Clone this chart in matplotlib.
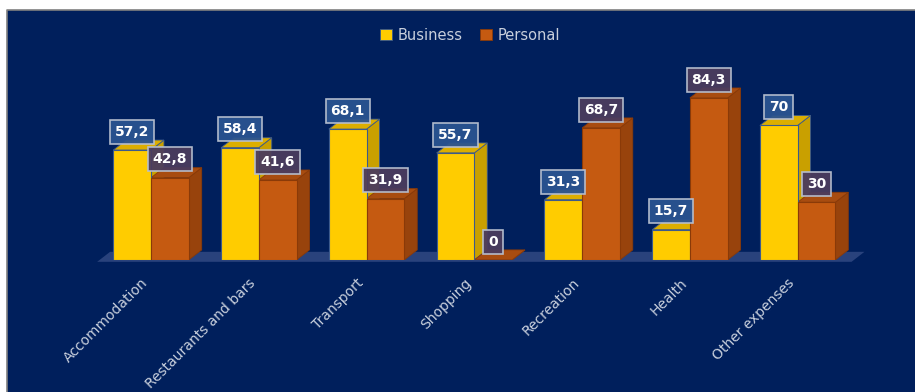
import matplotlib.pyplot as plt
from matplotlib.patches import Polygon, Rectangle, Patch
from matplotlib.lines import Line2D
from matplotlib.transforms import ScaledTranslation

categories = ["Accommodation", "Restaurants and bars", "Transport", "Shopping",
              "Recreation", "Health", "Other expenses"]
business = [57.2, 58.4, 68.1, 55.7, 31.3, 15.7, 70]
personal = [42.8, 41.6, 31.9, 0, 68.7, 84.3, 30]

BG = "#001f5c"
TXT = "#c8cfdc"
# front, top, side colours for each series
BUS_COLS = ("#ffcc00", "#dcae00", "#c9a000")
PER_COLS = ("#c55a11", "#a84c10", "#98430c")

W = 0.35          # bar width
DX, DY = 0.12, 5.2  # depth offset of the 3D faces


def fmt(v):
    s = f"{v:g}"
    return s.replace(".", ",")


def bar3d(ax, x0, h, cols, edge):
    x1 = x0 + W
    front, top, side = cols
    ax.add_patch(Polygon([(x1, 0), (x1 + DX, DY), (x1 + DX, h + DY), (x1, h)],
                         closed=True, fc=side, ec=edge, lw=0.6, zorder=2))
    if h > 0:
        ax.add_patch(Polygon([(x0, h), (x1, h), (x1 + DX, h + DY), (x0 + DX, h + DY)],
                             closed=True, fc=top, ec=edge, lw=0.6, zorder=2))
        ax.bar(x0, h, width=W, align="edge", color=front, edgecolor=edge,
               linewidth=0.8, zorder=3)
    else:
        ax.add_patch(Polygon([(x0, 0), (x1, 0), (x1 + DX, DY), (x0 + DX, DY)],
                             closed=True, fc=top, ec=edge, lw=0.6, zorder=2))


fig = plt.figure(figsize=(9.15, 3.92), dpi=100, facecolor="white")
x_l, y_t = 7 / 915, 1 - 10 / 392
fig.patches.append(Rectangle((x_l, -0.01), 1.02 - x_l, y_t + 0.01,
                             transform=fig.transFigure, fc=BG, ec="none",
                             zorder=-5))
fig.lines.append(Line2D([x_l, x_l, 1.0], [0, y_t, y_t], transform=fig.transFigure,
                        color="#808080", lw=1.2, zorder=-4))

ax = fig.add_axes([0.0944, 0.337, 0.848, 0.49])
ax.set_zorder(2)
ax.set_facecolor("none")
ax.set_xlim(-0.6, 6.6)
ax.set_ylim(0, 100)
for s in ax.spines.values():
    s.set_visible(False)
ax.tick_params(left=False, bottom=False, labelleft=False)

n = len(categories)
# floor of the chart
ax.add_patch(Polygon([(-0.5, -1), (n - 0.5, -1), (n - 0.5 + DX, DY - 1), (-0.5 + DX, DY - 1)],
                     closed=True, fc="#2e4680", ec="none", alpha=0.9, zorder=1,
                     clip_on=False))

for i in range(n):
    bar3d(ax, i - W, business[i], BUS_COLS, "#3c5a8c")
    bar3d(ax, i, personal[i], PER_COLS, "#8a3a08")

for i in range(n):
    for x, v, fc in ((i - W / 2, business[i], "#2a5390"), (i + W / 2, personal[i], "#4b3c5e")):
        ax.text(x, v + 9.5, fmt(v), ha="center", va="center", color="white",
                fontsize=10, fontweight="bold", zorder=6, clip_on=False,
                bbox=dict(boxstyle="square,pad=0.36", fc=fc, ec="#b8c0d0",
                          lw=1.2, alpha=0.95))

ax.set_xticks(range(n))
ax.set_xticklabels(categories, rotation=45, ha="right", rotation_mode="anchor",
                   color=TXT, fontsize=10)
ax.tick_params(axis="x", pad=8)
shift = ScaledTranslation(-0.10, 0, fig.dpi_scale_trans)
for lbl in ax.get_xticklabels():
    lbl.set_transform(lbl.get_transform() + shift)

handles = [Patch(fc=BUS_COLS[0], ec="#3c5a8c", lw=0.6),
           Patch(fc=PER_COLS[0], ec="#8a3a08", lw=0.6)]
fig.legend(handles, ["Business", "Personal"], loc="center",
           bbox_to_anchor=(470 / 915, 1 - 35 / 392), ncol=2, frameon=False,
           handlelength=0.8, handleheight=0.8, handletextpad=0.4,
           columnspacing=1.2, labelcolor=TXT, fontsize=10.5)

fig.savefig("out.png", dpi=100, facecolor=fig.get_facecolor())
